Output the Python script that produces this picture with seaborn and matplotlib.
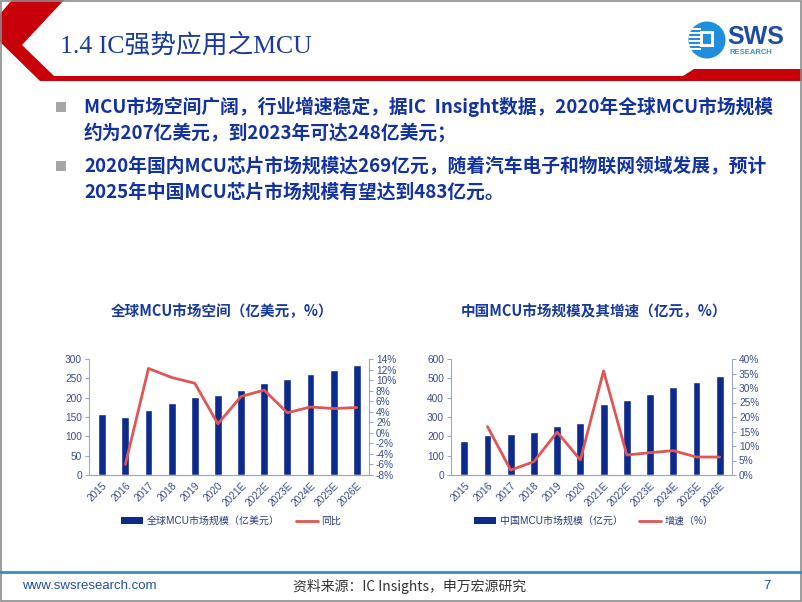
import matplotlib
matplotlib.use("Agg")
import matplotlib.pyplot as plt
import seaborn as sns
import numpy as np
import pandas as pd
from matplotlib.patches import Polygon, Rectangle, Circle
from matplotlib.lines import Line2D
from matplotlib.ticker import FuncFormatter, FixedLocator

# ---------------- data ----------------
years = ["2015", "2016", "2017", "2018", "2019", "2020",
         "2021E", "2022E", "2023E", "2024E", "2025E", "2026E"]
global_size = [159, 149, 168, 186, 203, 207, 221, 239, 248, 260, 271, 285]
global_yoy = [np.nan, -6.0, 12.2, 10.5, 9.4, 1.7, 6.9, 8.1, 3.8, 4.9, 4.6, 4.8]
china_size = [178, 208, 212, 222, 255, 269, 365, 390, 418, 453, 483, 512]
china_growth = [np.nan, 16.7, 1.7, 4.6, 14.8, 5.2, 35.9, 6.9, 7.7, 8.4, 6.2, 6.2]

title_text = "1.4 IC强势应用之MCU"
bullet1 = ["MCU市场空间广阔，行业增速稳定，据IC  Insight数据，2020年全球MCU市场规模",
           "约为207亿美元，到2023年可达248亿美元；"]
bullet2 = ["2020年国内MCU芯片市场规模达269亿元，随着汽车电子和物联网领域发展，预计",
           "2025年中国MCU芯片市场规模有望达到483亿元。"]
chart1_title = "全球MCU市场空间（亿美元，%）"
chart2_title = "中国MCU市场规模及其增速（亿元，%）"
legend1 = ["全球MCU市场规模（亿美元）", "同比"]
legend2 = ["中国MCU市场规模（亿元）", "增速（%）"]
footer_left = "www.swsresearch.com"
footer_mid = "资料来源：IC Insights，申万宏源研究"
page_no = "7"

# ---------------- style ----------------
sns.set_theme(style="white")
plt.rcParams["font.family"] = ["Liberation Sans", "Noto Sans CJK SC", "DejaVu Sans"]

BAR = "#0d2b8c"
LINE = "#e15555"
NAVY = "#183a9e"
TICK = "#3b4c8c"
AXC = "#9aa8c6"
RED = "#c8000a"

W, H = 802, 602
fig = plt.figure(figsize=(W / 100, H / 100), dpi=100)
fig.patch.set_facecolor("white")

# decoration layer in pixel coordinates
deco = fig.add_axes([0, 0, 1, 1])
deco.set_xlim(0, W)
deco.set_ylim(H, 0)
deco.axis("off")

# header chevron + red bar
deco.add_patch(Polygon([(12, 0), (64, 0), (22, 45), (54, 76), (683, 76), (694, 69),
                        (802, 69), (802, 81), (40, 81), (0, 42), (0, 14)],
                       closed=True, facecolor=RED, edgecolor="none"))
deco.text(60, 45, title_text, fontsize=18.5, color=NAVY, va="center", ha="left",
          family=["Liberation Serif", "Noto Sans CJK SC"])

# logo
deco.add_patch(Circle((707, 40), 18.5, facecolor="#1f8fdc", edgecolor="none"))
for yy in [28, 32, 36, 40, 44, 48]:
    deco.add_patch(Rectangle((689, yy), 12, 1.6, facecolor="white", edgecolor="none"))
deco.add_patch(Rectangle((700, 31), 14, 16, facecolor="white", edgecolor="none"))
deco.add_patch(Rectangle((703, 34), 8, 10, facecolor="#1f8fdc", edgecolor="none"))
deco.text(727, 37, "SWS", fontsize=18, fontweight="bold", color="#1d4da3",
          va="center", ha="left", family=["Liberation Sans"])
deco.text(729, 52, "RESEARCH", fontsize=5.5, fontweight="bold", color="#2b9ad8",
          va="center", ha="left", family=["Liberation Sans"])

# bullets
bfont = ["Noto Sans CJK SC", "DejaVu Sans"]
for (lines, y0) in [(bullet1, 107), (bullet2, 166)]:
    deco.add_patch(Rectangle((56, y0 - 5), 10, 10, facecolor="#a6a6a6", edgecolor="none"))
    for i, ln in enumerate(lines):
        deco.text(84, y0 + i * 26, ln, fontsize=13.5, fontweight="bold", color="#1232a0",
                  va="center", ha="left", family=bfont)

# chart titles
deco.text(222, 311, chart1_title, fontsize=10.5, fontweight="bold", color=NAVY,
          va="center", ha="center", family=bfont)
deco.text(594, 311, chart2_title, fontsize=10.5, fontweight="bold", color=NAVY,
          va="center", ha="center", family=bfont)

# footer
deco.add_line(Line2D([0, W], [572, 572], color="#2f8fc4", lw=2))
deco.text(22, 586, footer_left, fontsize=9.5, color="#1f4fa0", va="center", ha="left")
deco.text(410, 586, footer_mid, fontsize=10, color="#333333", va="center", ha="center",
          family=["Noto Sans CJK SC", "DejaVu Sans"])
deco.text(767, 586, page_no, fontsize=9.5, color="#1f4fa0", va="center", ha="center")

# slide frame
deco.add_patch(Rectangle((0.5, 0.5), W - 1.5, H - 1.5, facecolor="none",
                         edgecolor="#8c8c8c", lw=1.2))


def make_chart(rect, sizes, growth, ymax, ystep, rmin, rmax, rstep, labels, leg_x):
    ax = fig.add_axes(rect)
    df = pd.DataFrame({"year": years, "size": sizes})
    sns.barplot(data=df, x="year", y="size", order=years, color=BAR, width=0.34,
                saturation=1, ax=ax)
    ax.set_ylim(0, ymax)
    ax.set_yticks(np.arange(0, ymax + 1, ystep))
    ax.set_xlabel("")
    ax.set_ylabel("")

    ax2 = ax.twinx()
    gdf = pd.DataFrame({"pos": np.arange(len(years)), "g": growth}).dropna()
    sns.lineplot(data=gdf, x="pos", y="g", color=LINE, lw=2, ax=ax2)
    ax2.set_ylim(rmin, rmax)
    ax2.set_yticks(np.arange(rmin, rmax + 0.1, rstep))
    ax2.yaxis.set_major_formatter(FuncFormatter(lambda v, p: f"{int(round(v))}%"))
    ax2.set_xlabel("")
    ax2.set_ylabel("")
    ax.set_xlim(-0.57, len(years) - 0.47)

    for a in (ax, ax2):
        a.spines["top"].set_visible(False)
        for s in ["left", "right", "bottom"]:
            a.spines[s].set_color(AXC)
            a.spines[s].set_linewidth(0.8)
        a.tick_params(axis="y", colors=TICK, labelsize=7.3, length=3, width=0.8,
                      direction="out", pad=2)
        a.tick_params(axis="y", color=AXC)
    ax.spines["right"].set_visible(False)
    ax2.spines["left"].set_visible(False)

    ax.set_xticks(np.arange(len(years)))
    ax.set_xticklabels(years, rotation=45, ha="right", rotation_mode="anchor",
                       fontsize=7.3, color=TICK)
    ax.tick_params(axis="x", which="major", length=0, pad=4)
    ax.xaxis.set_minor_locator(FixedLocator(np.arange(-0.5, len(years), 1.0)))
    ax.tick_params(axis="x", which="minor", length=3, width=0.8, color=AXC, direction="out")

    handles = [Rectangle((0, 0), 1, 1, facecolor=BAR, edgecolor="none"),
               Line2D([0], [0], color=LINE, lw=2)]
    fig.legend(handles, labels, loc="center", bbox_to_anchor=(leg_x / W, 1 - 521 / H),
               ncol=2, frameon=False, fontsize=7.2, handlelength=2.2, handleheight=0.6,
               columnspacing=1.6, handletextpad=0.4, labelcolor="#2b3a7a")
    return ax, ax2


make_chart([89 / W, 1 - 475 / H, (369 - 89) / W, 116 / H], global_size, global_yoy,
           300, 50, -8, 14, 2, legend1, 231)
make_chart([451 / W, 1 - 475 / H, (732 - 451) / W, 116 / H], china_size, china_growth,
           600, 100, 0, 40, 5, legend2, 594)

fig.savefig("out.png", dpi=100, facecolor="white")
